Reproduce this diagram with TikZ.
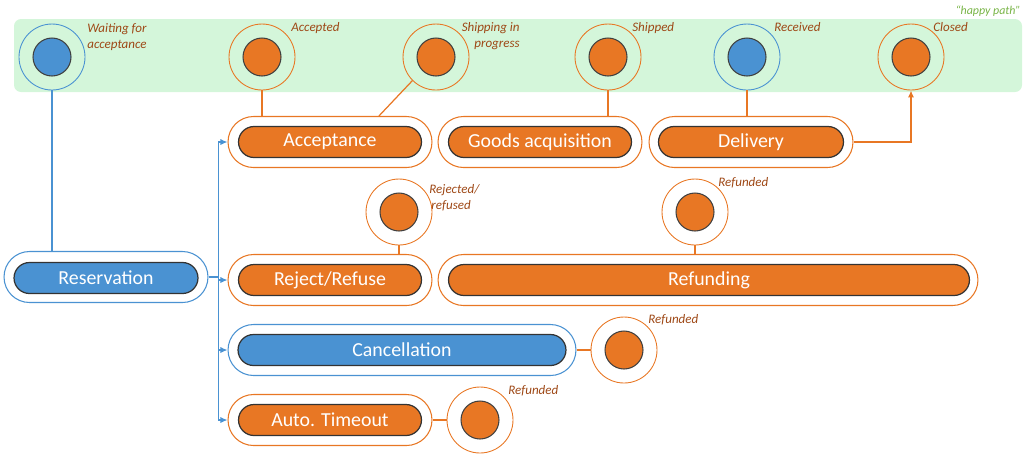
\documentclass[tikz,border=0pt]{standalone}
\usepackage{fontspec}
\setmainfont{Carlito}
\usetikzlibrary{shapes.misc,arrows.meta,positioning}

\definecolor{ordc}{RGB}{232,119,36}
\definecolor{bluc}{RGB}{74,146,210}
\definecolor{lblc}{RGB}{158,72,22}
\definecolor{bandc}{RGB}{212,246,218}
\definecolor{hapc}{RGB}{120,180,70}

\tikzset{
  ring/.style={circle, draw=#1, line width=0.5pt, minimum size=1.32cm, inner sep=0pt},
  dot/.style={circle, draw=black!75, fill=#1, line width=0.6pt, minimum size=0.76cm, inner sep=0pt},
  pill/.style={rounded rectangle, draw=#1, fill=white, line width=0.6pt, minimum height=1.02cm, inner sep=0pt},
  core/.style={rounded rectangle, draw=black!80, fill=#1, line width=0.7pt, minimum height=0.62cm, inner sep=0pt, text=white, font=\fontsize{11.3}{13}\selectfont},
  lbl/.style={anchor=north west, text=lblc, font=\itshape\fontsize{7.4}{9}\selectfont, align=left, inner sep=0pt},
  link/.style={draw=ordc, line width=0.7pt},
  bluelink/.style={draw=bluc, line width=0.7pt, -{Latex[length=4pt,width=3.5pt]}},
}

\begin{document}
\begin{tikzpicture}[x=0.02cm, y=-0.02cm]
\useasboundingbox (0,0) rectangle (1024,458);

%happy path band
\fill[bandc, rounded corners=4pt] (14,19) rectangle (1022,92);
\node[anchor=east, text=hapc, font=\itshape\fontsize{6.8}{8}\selectfont, inner sep=0pt] (happy) at (1021,11) {``happy path''};

%states on the happy path
\node[ring=bluc] (wait) at (52,57) {};
\node[dot=bluc] at (52,57) {};
\node[lbl] at (87,23) {Waiting for\\acceptance};

\node[ring=ordc] (accd) at (262,57) {};
\node[dot=ordc] at (262,57) {};
\node[lbl] at (291,22) {Accepted};

\node[ring=ordc] (ship) at (436,57) {};
\node[dot=ordc] at (436,57) {};
\node[lbl, anchor=north east, align=right] at (520,22) {Shipping in\\progress};

\node[ring=ordc] (shpd) at (608,57) {};
\node[dot=ordc] at (608,57) {};
\node[lbl] at (632,22) {Shipped};

\node[ring=bluc] (recv) at (747,57) {};
\node[dot=bluc] at (747,57) {};
\node[lbl] at (774,22) {Received};

\node[ring=ordc] (clos) at (911,57) {};
\node[dot=ordc] at (911,57) {};
\node[lbl] at (933,22) {Closed};

%processes
\node[pill=bluc, minimum width=4.08cm] (resO) at (106,277) {};
\node[core=bluc, minimum width=3.68cm] (res) at (106,278) {Reservation};

\node[pill=ordc, minimum width=4.08cm] (accO) at (330,142) {};
\node[core=ordc, minimum width=3.66cm] (acc) at (330,142) {Acceptance};

\node[pill=ordc, minimum width=4.08cm] (gdsO) at (540,142) {};
\node[core=ordc, minimum width=3.66cm] (gds) at (540,142) {Goods acquisition};

\node[pill=ordc, minimum width=4.08cm] (delO) at (751,142) {};
\node[core=ordc, minimum width=3.70cm] (del) at (751,142) {Delivery};

\node[pill=ordc, minimum width=4.08cm] (rejO) at (330,280) {};
\node[core=ordc, minimum width=3.66cm] (rej) at (330,280) {Reject/Refuse};

\node[pill=ordc, minimum width=10.80cm] (refO) at (708,280) {};
\node[core=ordc, minimum width=10.42cm] (ref) at (709,280) {Refunding};

\node[pill=bluc, minimum width=6.96cm] (canO) at (402,350) {};
\node[core=bluc, minimum width=6.56cm] (can) at (402,350) {Cancellation};

\node[pill=ordc, minimum width=4.08cm] (toO) at (330,420) {};
\node[core=ordc, minimum width=3.66cm] (to) at (330,420) {Auto. Timeout};

%end states off the path
\node[ring=ordc] (rjd) at (399,212) {};
\node[dot=ordc] at (399,212) {};
\node[lbl] at (429,184) {Rejected/\\\hspace{1.2pt}refused};

\node[ring=ordc] (rf1) at (695,212) {};
\node[dot=ordc] at (695,212) {};
\node[lbl] at (718,177) {Refunded};

\node[ring=ordc] (rf2) at (624,350) {};
\node[dot=ordc] at (624,350) {};
\node[lbl] at (648,314) {Refunded};

\node[ring=ordc] (rf3) at (480,420) {};
\node[dot=ordc] at (480,420) {};
\node[lbl] at (508,385) {Refunded};

%links
\draw[draw=bluc, line width=0.7pt] (wait.south) -- (wait.south |- resO.north);
\draw[link] (accd.south) -- (accd.south |- accO.north);
\draw[link] (ship.225) -- (accO.28);
\draw[link] (shpd.south) -- (shpd.south |- gdsO.north);
\draw[link] (recv.south) -- (recv.south |- delO.north);
\draw[link, -{Latex[length=4pt,width=3.5pt]}] (delO.east) -| (clos.south);
\draw[link] (rjd.south) -- (rjd.south |- rejO.north);
\draw[link] (rf1.south) -- (rf1.south |- refO.north);
\draw[link] (canO.east) -- (rf2.west);
\draw[link] (toO.east) -- (rf3.west);

%reservation fan out
\draw[bluelink] (resO.east) -- ++(10,0) |- (accO.west);
\draw[bluelink] (resO.east) -- ++(10,0) |- (rejO.west);
\draw[bluelink] (resO.east) -- ++(10,0) |- (canO.west);
\draw[bluelink] (resO.east) -- ++(10,0) |- (toO.west);
\end{tikzpicture}
\end{document}
